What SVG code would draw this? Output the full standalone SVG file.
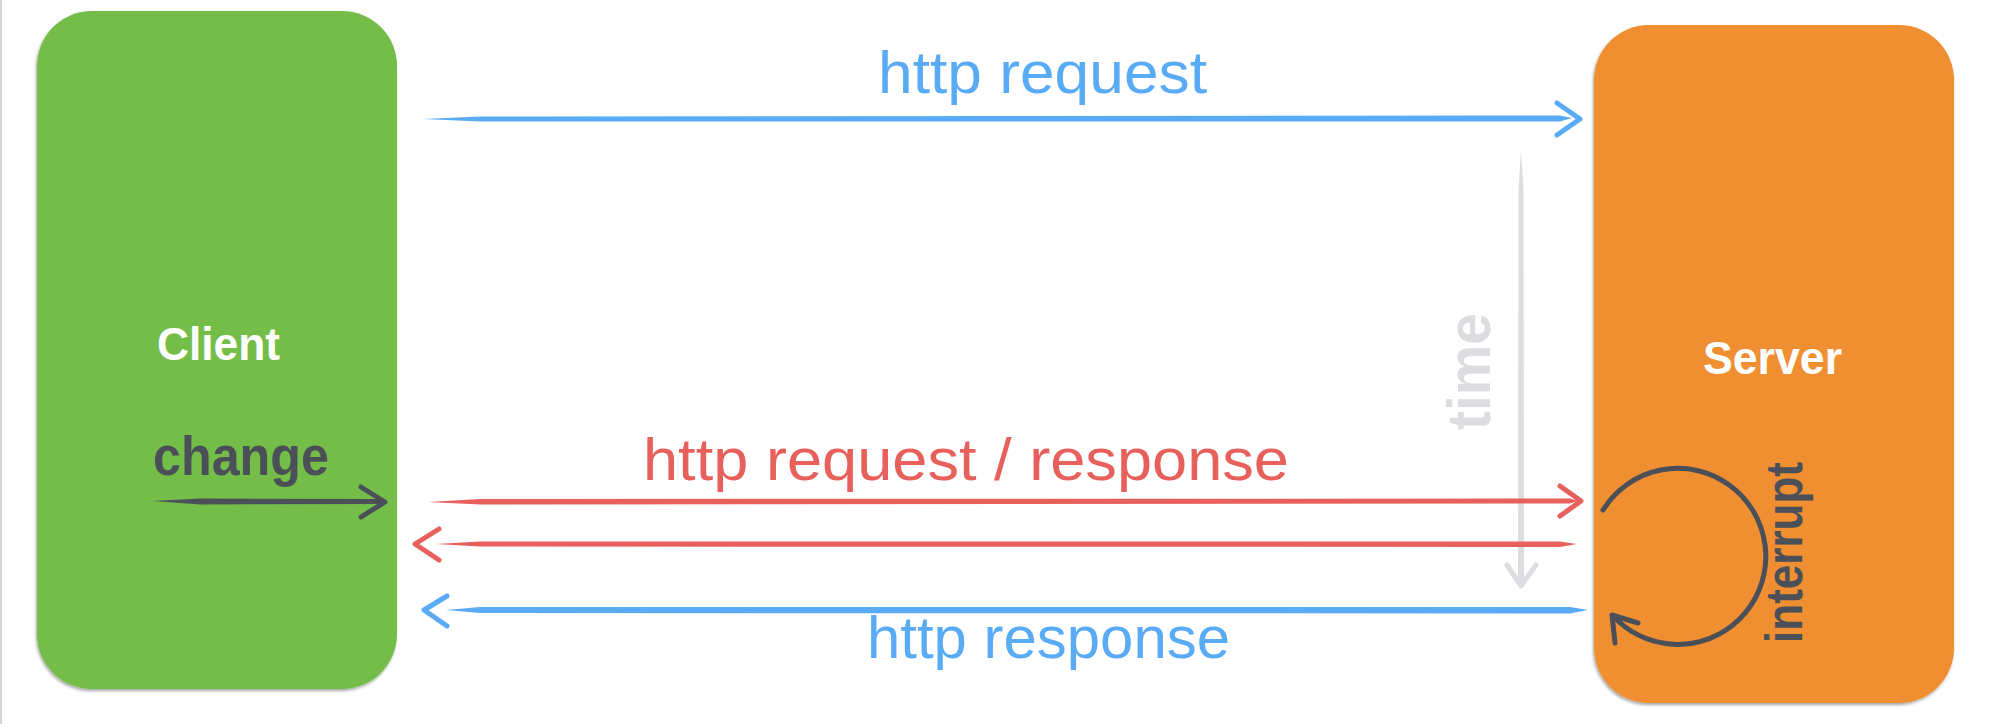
<svg xmlns="http://www.w3.org/2000/svg" width="2016" height="724" viewBox="0 0 2016 724">
<defs>
<filter id="sh" x="-5%" y="-5%" width="110%" height="110%">
<feDropShadow dx="-1" dy="2" stdDeviation="1.5" flood-color="#000" flood-opacity="0.35"/>
</filter>
</defs>
<style>
.lbl{font-family:"Liberation Sans Narrow","Liberation Sans",Arial,sans-serif;}
.node{font-family:"Liberation Sans",Arial,sans-serif;font-weight:bold;fill:#ffffff;font-size:46px;}
.head{fill:none;stroke-width:5;stroke-linecap:round;stroke-linejoin:round;}
.blue{fill:#5aabf6;}
.red{fill:#e8605c;}
.dark{fill:#4b5058;}
.grey{fill:#dcdde0;}
</style>
<rect x="0" y="0" width="2016" height="724" fill="#ffffff"/>
<rect x="0" y="0" width="2" height="724" fill="#d6d6d6"/>

<g id="client">
<rect x="37" y="11" width="360" height="678" rx="55" ry="55" fill="#74bd4a" filter="url(#sh)"/>
<text class="node" x="157" y="360" textLength="123" lengthAdjust="spacingAndGlyphs">Client</text>
</g>

<g id="server">
<rect x="1594" y="25" width="360" height="678" rx="55" ry="55" fill="#ef8f30" filter="url(#sh)"/>
<text class="node" x="1703" y="374" textLength="139" lengthAdjust="spacingAndGlyphs">Server</text>
</g>

<g id="connectors">
<!-- top blue request -->
<path class="blue" d="M423,119 L480,116.5 L1560,115.5 L1572,118 L1560,121.5 L480,121.5 Z"/>
<polyline class="head" stroke="#5aabf6" points="1557,103 1580,119 1557,135"/>
<text class="lbl blue" x="878" y="93" font-size="60" textLength="329" lengthAdjust="spacingAndGlyphs">http request</text>

<!-- time arrow -->
<path class="grey" d="M1521,150 L1523.5,190 L1524,585 L1518,585 L1518.5,190 Z"/>
<polyline class="head" stroke="#dcdde0" points="1507,565 1521,586 1536,565"/>
<text class="lbl grey" transform="translate(1490,430) rotate(-90)" font-size="62" font-weight="bold" textLength="117" lengthAdjust="spacingAndGlyphs">time</text>

<!-- change arrow -->
<path class="dark" d="M153,501 L200,498.5 L378,499 L385,501.5 L378,504 L200,504.5 Z"/>
<polyline class="head" stroke="#4b5058" points="361,487 385,502 361,517"/>
<text class="lbl dark" x="153" y="475" font-size="56" font-weight="bold" textLength="176" lengthAdjust="spacingAndGlyphs">change</text>

<!-- red request -->
<path class="red" d="M428,502 L480,499 L1570,498.5 L1578,501 L1570,503.5 L480,504.5 Z"/>
<polyline class="head" stroke="#e8605c" points="1560,486 1581,501 1560,516"/>
<text class="lbl red" x="643" y="480" font-size="60" textLength="646" lengthAdjust="spacingAndGlyphs">http request / response</text>

<!-- red response -->
<path class="red" d="M1577,544 L1560,541.5 L480,541.5 L436,544 L480,546.5 L1560,547 Z"/>
<polyline class="head" stroke="#e8605c" points="439,529 415,544 439,560"/>

<!-- blue response -->
<path class="blue" d="M1588,610 L1570,607 L480,607 L446,610 L480,613 L1570,613.5 Z"/>
<polyline class="head" stroke="#5aabf6" points="447,596 424,610 447,626"/>
<text class="lbl blue" x="867" y="658" font-size="60" textLength="363" lengthAdjust="spacingAndGlyphs">http response</text>

<!-- interrupt loop -->
<path d="M1603,510 A88,88 0 1 1 1617,620" fill="none" stroke="#4b5058" stroke-width="5" stroke-linecap="round"/>
<polyline class="head" stroke="#4b5058" points="1638,623 1612,615 1615,643"/>
<text class="lbl dark" transform="translate(1802,643) rotate(-90)" font-size="52" font-weight="bold" textLength="181" lengthAdjust="spacingAndGlyphs">interrupt</text>
</g>
</svg>
